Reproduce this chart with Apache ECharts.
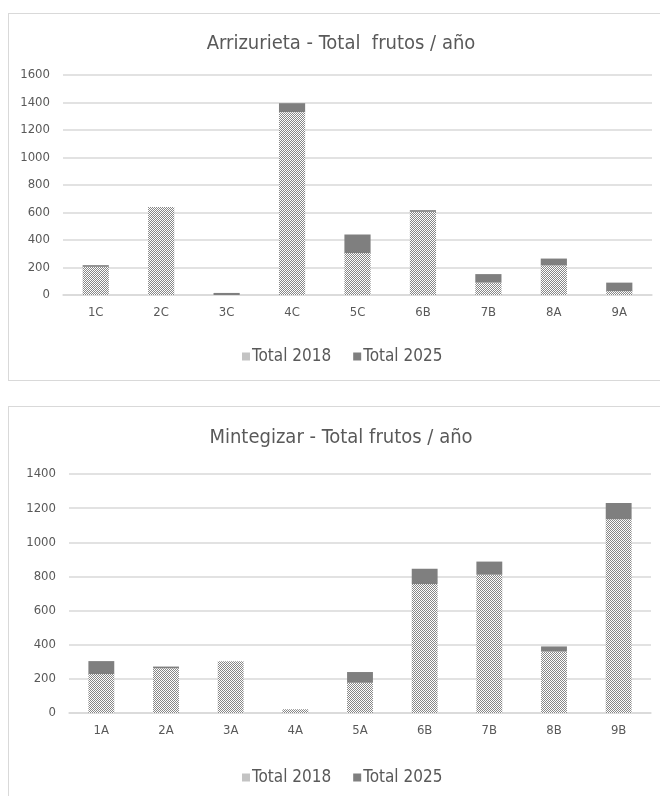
<!DOCTYPE html>
<html>
<head>
<meta charset="utf-8">
<script src="https://cdn.jsdelivr.net/npm/echarts@6/dist/echarts.min.js"></script>
<style>
  html, body { margin: 0; padding: 0; background: #fff; overflow: hidden; }
  .box { position: absolute; border: 1px solid #d9d9d9; border-right: none; background: #fff; }
  #arr { left: 8px; top: 13px; width: 670px; height: 366px; }
  #min { left: 8px; top: 406px; width: 670px; height: 400px; }
</style>
</head>
<body>
<div id="arr" class="box"></div>
<div id="min" class="box"></div>
<script>
// Arrizurieta plots
const arrCats = ['1C', '2C', '3C', '4C', '5C', '6B', '7B', '8A', '9A'];
const arr2018 = [205, 640, 0, 1330, 305, 605, 90, 215, 28];
const arr2025 = [12, 0, 15, 65, 135, 12, 62, 50, 62];
const arrTicks = [0, 200, 400, 600, 800, 1000, 1200, 1400, 1600];

// Mintegizar plots
const minCats = ['1A', '2A', '3A', '4A', '5A', '6B', '7B', '8B', '9B'];
const min2018 = [228, 262, 303, 22, 177, 755, 810, 360, 1135];
const min2025 = [76, 10, 0, 0, 63, 90, 77, 30, 95];
const minTicks = [0, 200, 400, 600, 800, 1000, 1200, 1400];

const seriesNames = ['Total 2018', 'Total 2025'];

const FONT = "'Liberation Sans Narrow', 'DejaVu Sans Condensed', 'Liberation Sans', sans-serif";
const TEXT = '#595959';
const DARK = '#7f7f7f';

// fine checker fill for the 2018 bars
function dotPattern() {
  const c = document.createElement('canvas');
  c.width = 2; c.height = 2;
  const g = c.getContext('2d');
  g.fillStyle = '#ffffff';
  g.fillRect(0, 0, 2, 2);
  g.fillStyle = '#878787';
  g.fillRect(0, 0, 1, 1);
  g.fillRect(1, 1, 1, 1);
  return { image: c, repeat: 'repeat' };
}

// the boxes run past the right edge, so centre things on the visible width
const CENTER_X = 327;

function buildOption(title, cats, a, b, ticks, grid, titleTop, legendTop) {
  const step = ticks[1] - ticks[0];
  return {
    animation: false,
    backgroundColor: '#fff',
    title: {
      text: title,
      left: CENTER_X,
      top: titleTop,
      textAlign: 'center',
      textStyle: { fontFamily: FONT, fontSize: 20, fontWeight: 'normal', color: TEXT }
    },
    legend: {
      data: seriesNames,
      left: CENTER_X - 99,
      width: 260,
      top: legendTop,
      itemWidth: 8,
      itemHeight: 8,
      itemGap: 22,
      icon: 'rect',
      textStyle: { fontFamily: FONT, fontSize: 17, color: TEXT, padding: [0, 0, 0, -3] }
    },
    grid: grid,
    xAxis: {
      type: 'category',
      data: cats,
      axisTick: { show: false },
      axisLine: { lineStyle: { color: '#d9d9d9', width: 1.5 } },
      axisLabel: { fontFamily: FONT, fontSize: 13, color: TEXT, margin: 11 }
    },
    yAxis: {
      type: 'value',
      min: ticks[0],
      max: ticks[ticks.length - 1],
      interval: step,
      axisLine: { show: false },
      axisTick: { show: false },
      splitLine: { lineStyle: { color: '#d9d9d9', width: 1.5 } },
      axisLabel: {
        fontFamily: FONT, fontSize: 13, color: TEXT, margin: 13,
        formatter: v => String(v)
      }
    },
    series: [
      {
        name: seriesNames[0],
        type: 'bar',
        stack: 'total',
        data: a,
        barWidth: '40%',
        itemStyle: { color: dotPattern() }
      },
      {
        name: seriesNames[1],
        type: 'bar',
        stack: 'total',
        data: b,
        barWidth: '40%',
        itemStyle: { color: DARK }
      }
    ]
  };
}

const arrChart = echarts.init(document.getElementById('arr'), null, { renderer: 'canvas' });
arrChart.setOption(buildOption(
  'Arrizurieta - Total  frutos / año', arrCats, arr2018, arr2025, arrTicks,
  { left: 54, top: 61, width: 589, height: 220 }, 15, 329
));

const minChart = echarts.init(document.getElementById('min'), null, { renderer: 'canvas' });
minChart.setOption(buildOption(
  'Mintegizar - Total frutos / año', minCats, min2018, min2025, minTicks,
  { left: 60, top: 67, width: 582, height: 239 }, 16, 357
));
</script>
</body>
</html>
